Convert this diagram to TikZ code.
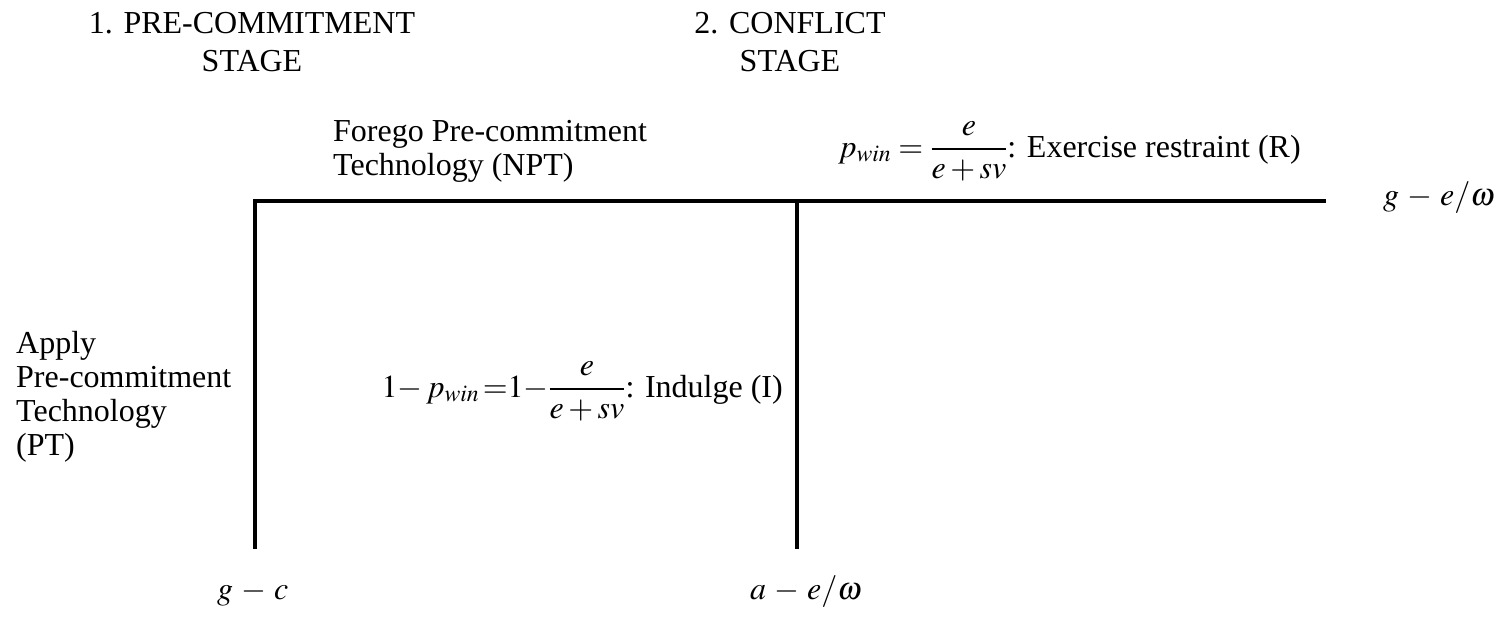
\documentclass[tikz,border=0pt]{standalone}
\usepackage{mathptmx}
\usepackage[no-math]{fontspec}
\setmainfont{Liberation Serif}
\begin{document}
\begin{tikzpicture}[x=1pt,y=-1pt,
  lbl/.style={inner sep=0pt, font=\fontsize{32}{34}\selectfont},
  head/.style={inner sep=0pt, align=center, anchor=north, font=\fontsize{32}{38}\selectfont},
  pay/.style={inner sep=0pt, anchor=base west, font=\fontsize{32}{36}\selectfont},
  branch/.style={line width=4pt, line join=miter}]
\useasboundingbox (0,0) rectangle (1501,619);
% tree points
\coordinate (root) at (255,201);
\coordinate (conf) at (797,201);
\coordinate (endR) at (1326,201);
\coordinate (endPT) at (255,549);
\coordinate (endI) at (797,549);
\draw[branch] (endPT) -- (root) -- (endR);
\draw[branch] (conf) -- (endI);
% stage headings
\node[head] (h1) at (252,12.5) {1. PRE-COMMITMENT\\STAGE};
\node[head] (h2) at (790,12.5) {2. CONFLICT\\STAGE};
% action labels
\node[lbl, align=left, anchor=north west] (npt) at (333,120.5) {Forego Pre-commitment\\Technology (NPT)};
\node[lbl, align=left, anchor=north west] (pt) at (16,331.5) {Apply\\Pre-commitment\\Technology\\(PT)};
\node[lbl, anchor=base west] (eqR) at (838,157) {$\displaystyle p_{win}=\frac{e}{e+sv}$: Exercise restraint (R)};
\node[lbl, anchor=base east] (eqI) at (783,397) {$\displaystyle 1{-}\,p_{win}\,{=}1{-}\frac{e}{e+sv}$: Indulge (I)};
% payoffs
\newcommand{\msub}{\mathbin{\,-\,}}
\node[pay] (payR) at (1383,205) {$g\msub e/\omega$};
\node[pay] (payPT) at (217,599) {$g\msub c$};
\node[pay] (payI) at (750,599) {$a\msub e/\omega$};
\end{tikzpicture}
\end{document}
